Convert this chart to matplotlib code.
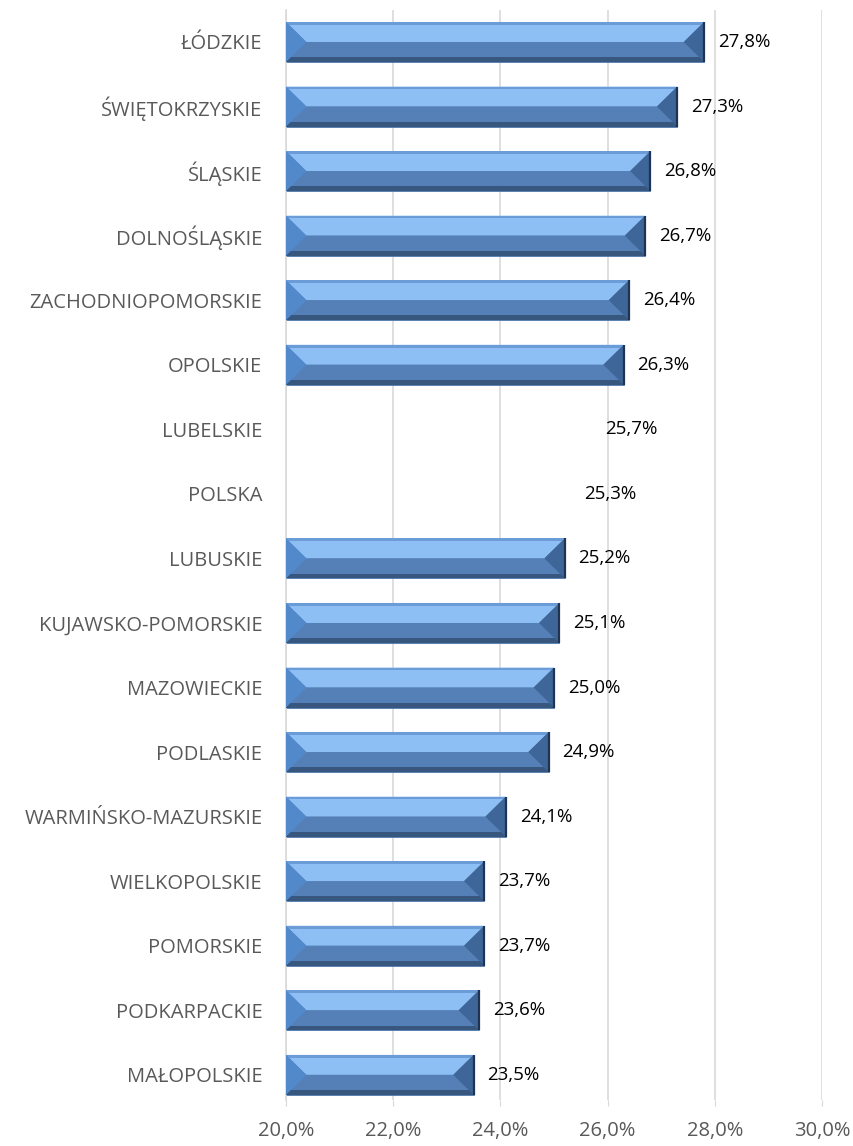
import matplotlib

matplotlib.use("Agg")
import matplotlib.pyplot as plt
from matplotlib.patches import Polygon

regions = [
    "ŁÓDZKIE", "ŚWIĘTOKRZYSKIE", "ŚLĄSKIE", "DOLNOŚLĄSKIE", "ZACHODNIOPOMORSKIE",
    "OPOLSKIE", "LUBELSKIE", "POLSKA", "LUBUSKIE", "KUJAWSKO-POMORSKIE",
    "MAZOWIECKIE", "PODLASKIE", "WARMIŃSKO-MAZURSKIE", "WIELKOPOLSKIE",
    "POMORSKIE", "PODKARPACKIE", "MAŁOPOLSKIE",
]
values = [27.8, 27.3, 26.8, 26.7, 26.4, 26.3, 25.7, 25.3, 25.2, 25.1,
          25.0, 24.9, 24.1, 23.7, 23.7, 23.6, 23.5]
hidden = ["LUBELSKIE", "POLSKA"]
x_ticks = [20, 22, 24, 26, 28, 30]

AXIS_MIN, AXIS_MAX = 20, 30
FONT = "Open Sans"

fig = plt.figure(figsize=(8.54, 11.46), dpi=100)
ax = fig.add_axes([0.3349, 0.0401, 0.6276, 0.9512])

ypos = list(range(len(regions)))
bars = ax.barh(ypos, [v - AXIS_MIN for v in values], left=AXIS_MIN,
               height=0.62, color="#5A86BE", edgecolor="#3F6A9F", linewidth=0.5, zorder=2)

bev = 0.38
for name, p in zip(regions, bars):
    if name in hidden:
        p.set_visible(False)
        continue
    x0, x1 = p.get_x(), p.get_x() + p.get_width()
    yt, yb = p.get_y(), p.get_y() + p.get_height()
    ym = (yt + yb) / 2
    h = yb - yt
    shapes = [
        ([(x0, yt), (x1, yt), (x1 - bev, ym), (x0 + bev, ym)], "#8DBFF5"),
        ([(x0, yt), (x1, yt), (x1, yt + h * 0.07), (x0, yt + h * 0.07)], "#6C9CD8"),
        ([(x0 + bev, ym), (x1 - bev, ym), (x1, yb), (x0, yb)], "#5580B7"),
        ([(x0, yb - h * 0.12), (x1, yb - h * 0.12), (x1, yb), (x0, yb)], "#37577F"),
        ([(x0, yt), (x0 + bev, ym), (x0, yb)], "#5189CB"),
        ([(x1, yt), (x1 - bev, ym), (x1, yb)], "#3E6699"),
    ]
    for pts, c in shapes:
        ax.add_patch(Polygon(pts, closed=True, facecolor=c, edgecolor="none", zorder=3))
    ax.plot([x1, x1], [yt, yb], color="#1E3452", lw=1.6, zorder=4, solid_capstyle="butt")

for y, v in zip(ypos, values):
    ax.annotate(f"{v:.1f}%".replace(".", ","), (v, y), xytext=(10, 0),
                textcoords="offset points", ha="left", va="center",
                fontsize=13.5, family=FONT, color="black")

ax.set_xlim(AXIS_MIN, AXIS_MAX)
ax.set_ylim(16.39, -0.496)
ax.set_xticks(x_ticks)
ax.set_xticklabels([f"{t:.1f}%".replace(".", ",") for t in x_ticks],
                   fontsize=14.5, family=FONT, color="#595959")
ax.set_yticks(ypos)
ax.set_yticklabels(regions, fontsize=14.5, family=FONT, color="#595959")
ax.tick_params(axis="y", length=0, pad=17)
ax.tick_params(axis="x", length=4, color="#D9D9D9", pad=11)
ax.grid(axis="x", color="#D9D9D9", lw=1.2, zorder=0)
ax.set_axisbelow(True)
for s in ["top", "right", "bottom"]:
    ax.spines[s].set_visible(False)
ax.spines["left"].set_color("#D9D9D9")
ax.spines["left"].set_linewidth(1.2)

fig.savefig("out.png", dpi=100)
